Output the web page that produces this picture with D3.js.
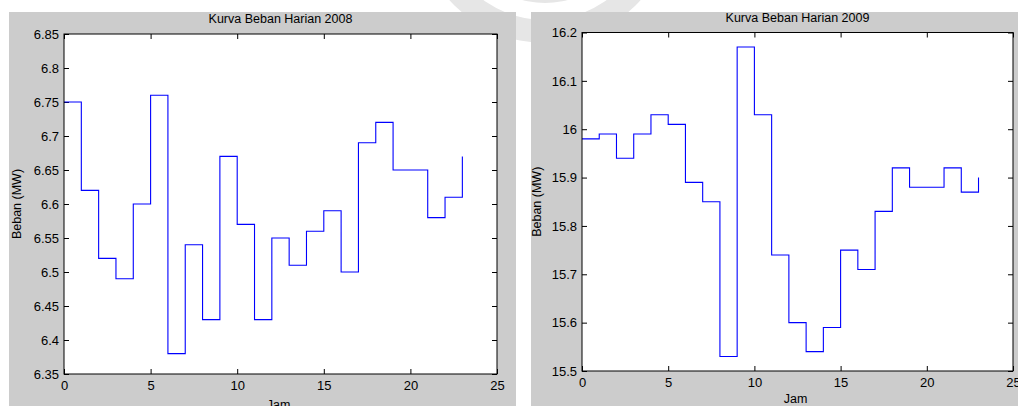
<!DOCTYPE html>
<html>
<head>
<meta charset="utf-8">
<script src="https://cdn.jsdelivr.net/npm/d3@7"></script>
<style>
  body { margin: 0; background: #fff; }
  text { font-family: "Liberation Sans", Arial, sans-serif; fill: #000; }
</style>
</head>
<body>
<div id="chart"></div>
<script>
// hours on the x axis
var hours = d3.range(0, 24);
// load per hour (MW)
var load2008 = [6.75, 6.62, 6.52, 6.49, 6.60, 6.76, 6.38, 6.54, 6.43, 6.67, 6.57, 6.43,
                6.55, 6.51, 6.56, 6.59, 6.50, 6.69, 6.72, 6.65, 6.65, 6.58, 6.61, 6.67];
var load2009 = [15.98, 15.99, 15.94, 15.99, 16.03, 16.01, 15.89, 15.85, 15.53, 16.17, 16.03, 15.74,
                15.60, 15.54, 15.59, 15.75, 15.71, 15.83, 15.92, 15.88, 15.88, 15.92, 15.87, 15.90];
var xTicks = [0, 5, 10, 15, 20, 25];
var yTicks2008 = [6.35, 6.4, 6.45, 6.5, 6.55, 6.6, 6.65, 6.7, 6.75, 6.8, 6.85];
var yTicks2009 = [15.5, 15.6, 15.7, 15.8, 15.9, 16, 16.1, 16.2];
var titles = ["Kurva Beban Harian 2008", "Kurva Beban Harian 2009"];

var W = 1018, H = 406;
var svg = d3.select("#chart").append("svg")
    .attr("width", W)
    .attr("height", H);

// faint watermark rings behind the figures
var wm = svg.append("g").attr("transform", "translate(545,-85)");
[[70, 88], [105, 128]].forEach(function (r) {
    wm.append("path")
        .attr("d", d3.arc().innerRadius(r[0]).outerRadius(r[1]).startAngle(0).endAngle(2 * Math.PI)())
        .attr("fill", "#e6e6e6");
});

var panels = [
    { box: [9, 12, 507, 400], plot: { x0: 64, x1: 497, y0: 34, y1: 374 }, values: load2008, ticks: yTicks2008, title: titles[0], ylabX: 17, jamY: 409 },
    { box: [531, 12, 490, 400], plot: { x0: 582, x1: 1013, y0: 32.5, y1: 371 }, values: load2009, ticks: yTicks2009, title: titles[1], ylabX: 537, jamY: 403 }
];

var fmt = function (d) { return String(+d.toFixed(3)); };

panels.forEach(function (p) {
    var g = svg.append("g");
    g.append("rect")
        .attr("x", p.box[0]).attr("y", p.box[1])
        .attr("width", p.box[2]).attr("height", p.box[3])
        .attr("fill", "#cccccc");

    var x = d3.scaleLinear().domain([0, 25]).range([p.plot.x0, p.plot.x1]);
    var y = d3.scaleLinear().domain(d3.extent(p.ticks)).range([p.plot.y1, p.plot.y0]);

    g.append("rect")
        .attr("x", p.plot.x0).attr("y", p.plot.y0)
        .attr("width", p.plot.x1 - p.plot.x0).attr("height", p.plot.y1 - p.plot.y0)
        .attr("fill", "#fff");

    // axes, ticks pointing inward on all four sides
    var bottom = g.append("g").attr("transform", "translate(0," + p.plot.y1 + ")")
        .call(d3.axisBottom(x).tickValues(xTicks).tickSizeInner(-5).tickSizeOuter(0).tickPadding(7));
    var top = g.append("g").attr("transform", "translate(0," + p.plot.y0 + ")")
        .call(d3.axisTop(x).tickValues(xTicks).tickSizeInner(-5).tickSizeOuter(0).tickFormat(""));
    var left = g.append("g").attr("transform", "translate(" + p.plot.x0 + ",0)")
        .call(d3.axisLeft(y).tickValues(p.ticks).tickSizeInner(-5).tickSizeOuter(0).tickPadding(5).tickFormat(fmt));
    var right = g.append("g").attr("transform", "translate(" + p.plot.x1 + ",0)")
        .call(d3.axisRight(y).tickValues(p.ticks).tickSizeInner(-5).tickSizeOuter(0).tickFormat(""));

    [bottom, top, left, right].forEach(function (a) {
        a.select(".domain").remove();
        a.selectAll(".tick line").attr("stroke", "#000");
        a.selectAll(".tick text")
            .style("font-family", "'Liberation Sans', Arial, sans-serif")
            .style("font-size", "13px")
            .attr("fill", "#000");
    });
    bottom.selectAll(".tick text").attr("dy", "0.71em");

    g.append("path")
        .datum(hours)
        .attr("fill", "none")
        .attr("stroke", "#0000ff")
        .attr("stroke-width", 1.1)
        .attr("d", d3.line()
            .curve(d3.curveStepAfter)
            .x(function (d) { return x(d); })
            .y(function (d) { return y(p.values[d]); }));

    // box
    g.append("rect")
        .attr("x", p.plot.x0).attr("y", p.plot.y0)
        .attr("width", p.plot.x1 - p.plot.x0).attr("height", p.plot.y1 - p.plot.y0)
        .attr("fill", "none").attr("stroke", "#000").attr("stroke-width", 1);

    g.append("text")
        .attr("x", (p.plot.x0 + p.plot.x1) / 2)
        .attr("y", p.plot.y0 - 11)
        .attr("text-anchor", "middle")
        .style("font-size", "12.5px")
        .text(p.title);

    g.append("text")
        .attr("transform", "translate(" + (p.ylabX + 4) + "," + ((p.plot.y0 + p.plot.y1) / 2) + ") rotate(-90)")
        .attr("text-anchor", "middle")
        .style("font-size", "12.5px")
        .text("Beban (MW)");

    g.append("text")
        .attr("x", (p.plot.x0 + p.plot.x1) / 2 - 2)
        .attr("y", p.jamY)
        .attr("text-anchor", "middle")
        .style("font-size", "12.5px")
        .text("Jam");
});
</script>
</body>
</html>
